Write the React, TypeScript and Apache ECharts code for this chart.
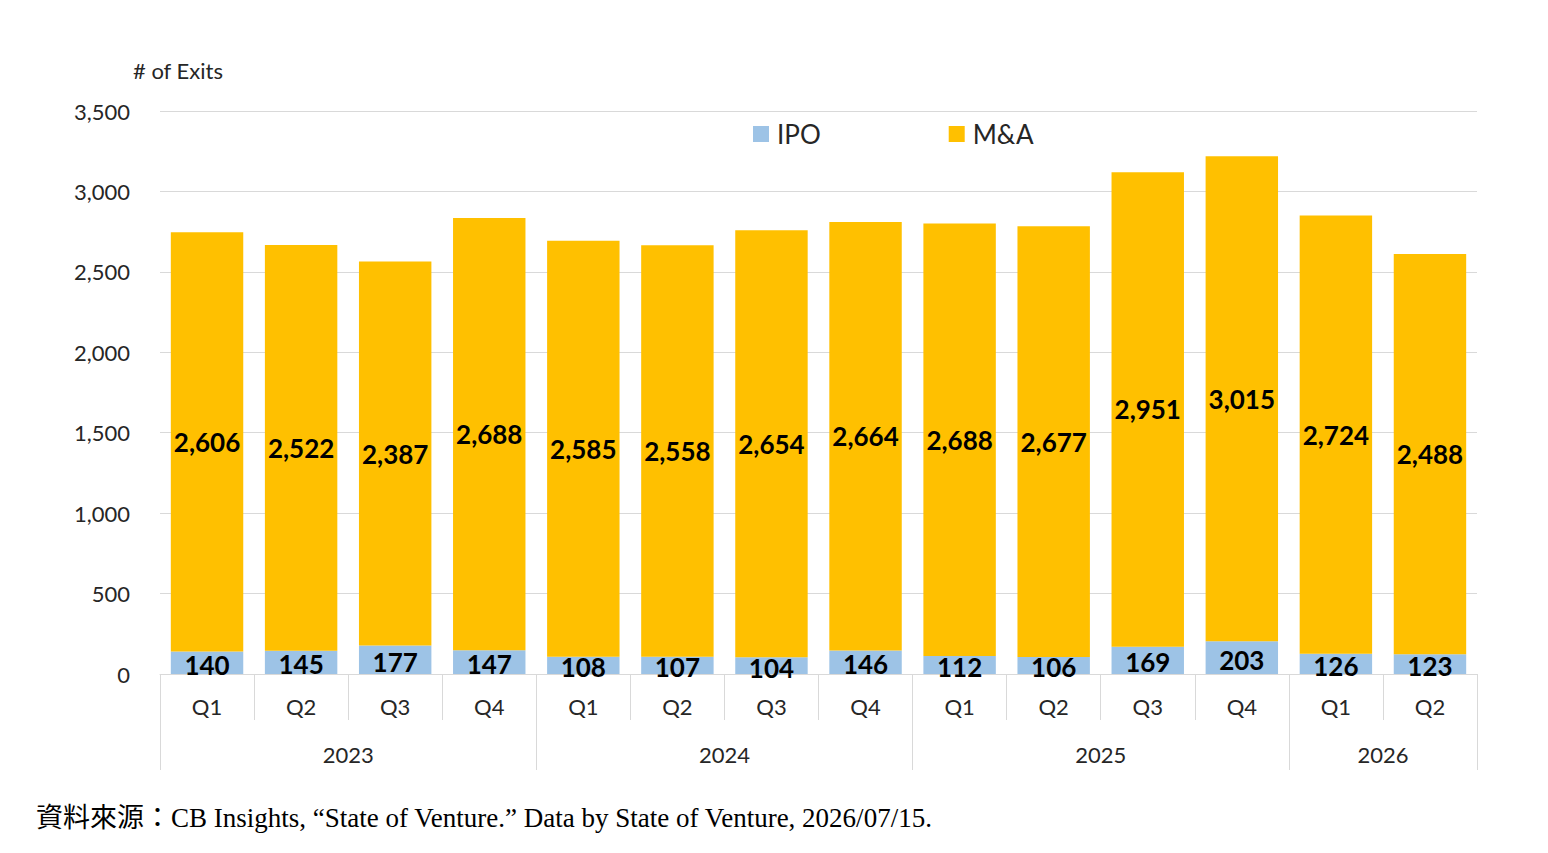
import React, { useEffect, useRef } from "react";
import * as echarts from "echarts";

const quarters = ["Q1", "Q2", "Q3", "Q4", "Q1", "Q2", "Q3", "Q4", "Q1", "Q2", "Q3", "Q4", "Q1", "Q2"];
const years = ["2023", "2024", "2025", "2026"];
const yearCenters = [2, 6, 10, 13];
const yearBounds = [0, 4, 8, 12, 14];
const ipo = [140, 145, 177, 147, 108, 107, 104, 146, 112, 106, 169, 203, 126, 123];
const mna = [2606, 2522, 2387, 2688, 2585, 2558, 2654, 2664, 2688, 2677, 2951, 3015, 2724, 2488];
const yTicks = [0, 500, 1000, 1500, 2000, 2500, 3000, 3500];

const FONT = "Lato, 'Open Sans', sans-serif";
const GRID_COLOR = "#d9d9d9";
const TEXT_COLOR = "#262626";

export default function App() {
  const ref = useRef<HTMLDivElement>(null);

  useEffect(() => {
    document.body.style.margin = "0";
    if (!ref.current) return;
    const chart = echarts.init(ref.current, null, { renderer: "svg" });
    const fmt = (v: number) => v.toLocaleString("en-US");
    chart.setOption({
      animation: false,
      backgroundColor: "#ffffff",
      title: [
        {
          text: "# of Exits",
          left: 128,
          top: 54,
          textStyle: { fontFamily: FONT, fontSize: 22, fontWeight: "normal", color: TEXT_COLOR },
        },
        {
          text: "資料來源：CB Insights, “State of Venture.” Data by State of Venture, 2026/07/15.",
          left: 31,
          top: 799,
          textStyle: {
            fontFamily: "'Liberation Serif', 'Noto Sans CJK TC', serif",
            fontSize: 27,
            fontWeight: "normal",
            color: "#000",
          },
        },
      ],
      legend: {
        left: 748,
        top: 116,
        itemWidth: 16,
        itemHeight: 16,
        itemGap: 128,
        icon: "rect",
        textStyle: { fontFamily: FONT, fontSize: 26, color: TEXT_COLOR, padding: [0, 0, 0, 3] },
        data: ["IPO", "M&A"],
      },
      grid: { left: 160, right: 71, top: 111, bottom: 179 },
      xAxis: [
        {
          type: "category",
          data: quarters,
          position: "bottom",
          axisLine: { show: true, lineStyle: { color: GRID_COLOR, width: 1 } },
          axisTick: { show: true, interval: 0, length: 46, alignWithLabel: false, lineStyle: { color: GRID_COLOR } },
          axisLabel: { interval: 0, margin: 21, fontFamily: FONT, fontSize: 22, color: TEXT_COLOR },
        },
        {
          type: "value",
          min: 0,
          max: 14,
          position: "bottom",
          offset: 96,
          splitLine: { show: false },
          axisLine: { show: false },
          axisTick: {
            show: true,
            inside: true,
            length: 96,
            customValues: yearBounds,
            lineStyle: { color: GRID_COLOR },
          },
          axisLabel: {
            inside: true,
            margin: 5,
            customValues: yearCenters,
            formatter: (v: number) => years[yearCenters.indexOf(v)] ?? "",
            fontFamily: FONT,
            fontSize: 22,
            color: TEXT_COLOR,
          },
        },
      ],
      yAxis: {
        type: "value",
        min: 0,
        max: 3500,
        interval: 500,
        axisLine: { show: false },
        axisTick: { show: false },
        splitLine: { lineStyle: { color: GRID_COLOR, width: 1 } },
        axisLabel: {
          margin: 30,
          fontFamily: FONT,
          fontSize: 22,
          color: TEXT_COLOR,
          formatter: (v: number) => (yTicks.includes(v) ? fmt(v) : ""),
        },
      },
      series: [
        {
          name: "IPO",
          type: "bar",
          stack: "total",
          xAxisIndex: 0,
          data: ipo,
          barCategoryGap: "23%",
          itemStyle: { color: "#9DC3E6" },
          label: {
            show: true,
            position: "inside",
            offset: [0, 2],
            formatter: (p: any) => fmt(p.value),
            fontFamily: FONT,
            fontWeight: "bold",
            fontSize: 26,
            color: "#000",
          },
        },
        {
          name: "M&A",
          type: "bar",
          stack: "total",
          xAxisIndex: 0,
          data: mna,
          barCategoryGap: "23%",
          itemStyle: { color: "#FFC000" },
          label: {
            show: true,
            position: "inside",
            formatter: (p: any) => fmt(p.value),
            fontFamily: FONT,
            fontWeight: "bold",
            fontSize: 26,
            color: "#000",
          },
        },
      ],
    });
    return () => chart.dispose();
  }, []);

  return <div ref={ref} style={{ width: 1548, height: 853 }} />;
}
